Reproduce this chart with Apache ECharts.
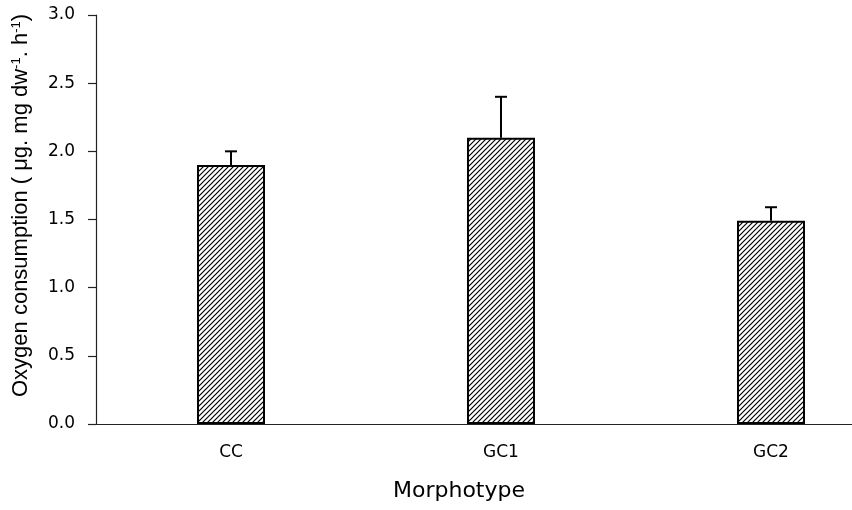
<!DOCTYPE html>
<html><head><meta charset="utf-8">
<script src="https://cdn.jsdelivr.net/npm/echarts@6/dist/echarts.min.js"></script>
<style>html,body{margin:0;padding:0;background:#fff}#c{width:852px;height:510px}</style>
</head><body><div id="c"></div>
<script>
var categories = ['CC', 'GC1', 'GC2'];
var means = [1.9, 2.1, 1.49];
var errors = [0.1, 0.3, 0.1];
var yTicks = [0, 0.5, 1.0, 1.5, 2.0, 2.5, 3.0];

function hatch() {
  var s = 5, c = document.createElement('canvas');
  c.width = s; c.height = s;
  var g = c.getContext('2d');
  g.fillStyle = '#fff'; g.fillRect(0, 0, s, s);
  g.strokeStyle = '#000'; g.lineWidth = 1.2;
  g.beginPath();
  g.moveTo(-1, s + 1); g.lineTo(s + 1, -1);
  g.moveTo(-1, 1); g.lineTo(1, -1);
  g.moveTo(s - 1, s + 1); g.lineTo(s + 1, s - 1);
  g.stroke();
  return c;
}

var chart = echarts.init(document.getElementById('c'), null, {renderer: 'canvas'});
chart.setOption({
  animation: false,
  backgroundColor: '#fff',
  grid: {left: 96, top: 15, bottom: 86, width: 810, outerBoundsMode: 'none', containLabel: false},
  xAxis: {
    type: 'category', data: categories,
    axisLine: {lineStyle: {color: '#222', width: 1.2}},
    axisTick: {show: false},
    axisLabel: {margin: 20, fontSize: 17, color: '#000', fontFamily: 'DejaVu Sans'},
    name: 'Morphotype', nameLocation: 'middle', nameGap: 56,
    nameTextStyle: {fontSize: 22, color: '#000', fontFamily: 'DejaVu Sans', padding: [0, 84, 0, 0]}
  },
  yAxis: {
    type: 'value', min: yTicks[0], max: yTicks[yTicks.length - 1], interval: 0.5,
    splitLine: {show: false},
    axisLine: {show: true, lineStyle: {color: '#222', width: 1.2}},
    axisTick: {show: true, length: 8, lineStyle: {color: '#222', width: 1.2}},
    axisLabel: {margin: 21, fontSize: 17, color: '#000', fontFamily: 'DejaVu Sans',
      formatter: function (v) { return v.toFixed(1); }},
    name: 'Oxygen consumption ( μg. mg dw{sup|-1}. h{sup|-1})',
    nameLocation: 'middle', nameGap: 64,
    nameTextStyle: {fontSize: 22, color: '#000', fontFamily: 'Liberation Sans',
      padding: [0, 0, 0, 28],
      rich: {sup: {fontSize: 13, verticalAlign: 'top', padding: [0, 0, 9, 0], fontFamily: 'Liberation Sans', color: '#000'}}}
  },
  series: [{
    type: 'bar', data: means, barWidth: 68,
    itemStyle: {color: {image: hatch(), repeat: 'repeat'}, borderColor: '#000', borderWidth: 2}
  }, {
    type: 'custom',
    data: categories.map(function (c, i) { return [i, means[i], means[i] + errors[i]]; }),
    renderItem: function (params, api) {
      var lo = api.coord([api.value(0), api.value(1)]);
      var hi = api.coord([api.value(0), api.value(2)]);
      var x = lo[0], hw = 6;
      return {type: 'group', children: [
        {type: 'line', shape: {x1: x, y1: lo[1], x2: x, y2: hi[1]}, style: {stroke: '#000', lineWidth: 2}},
        {type: 'line', shape: {x1: x - hw, y1: hi[1], x2: x + hw, y2: hi[1]}, style: {stroke: '#000', lineWidth: 2}}
      ]};
    },
    z: 3
  }]
});
</script></body></html>
